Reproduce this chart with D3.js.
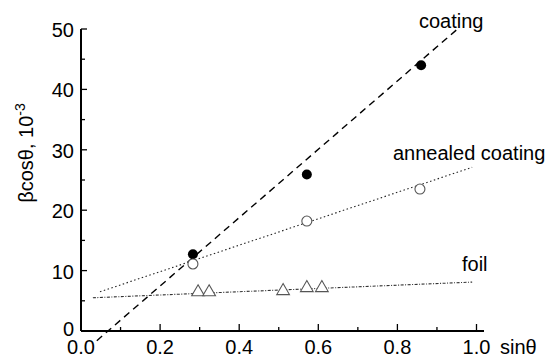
<!DOCTYPE html>
<html>
<head>
<meta charset="utf-8">
<script src="https://cdn.jsdelivr.net/npm/d3@7"></script>
<style>
  body { margin: 0; background: #fff; }
  text { font-family: Arial, "Liberation Sans", sans-serif; fill: #000; }
</style>
</head>
<body>
<div id="chart"></div>
<script>
// data
const coatingPts = [[0.283, 12.7], [0.571, 25.9], [0.86, 44.0]];
const annealedPts = [[0.283, 11.1], [0.571, 18.2], [0.857, 23.5]];
const foilPts = [[0.296, 6.6], [0.324, 6.6], [0.511, 6.8], [0.571, 7.3], [0.609, 7.3]];

// fitted lines (end points)
const coatingFit = [[0.04, -1.6], [0.952, 50]];
const annealedFit = [[0.048, 6.5], [0.989, 27.1]];
const foilFit = [[0.03, 5.5], [0.989, 8.1]];

const xTicks = [0, 0.2, 0.4, 0.6, 0.8, 1.0];
const xMinor = [0.1, 0.3, 0.5, 0.7, 0.9];
const yTicks = [0, 10, 20, 30, 40, 50];
const yMinor = [5, 15, 25, 35, 45];

const width = 550, height = 359;

const x = d3.scaleLinear().domain([0, 1]).range([81, 476.5]);
const y = d3.scaleLinear().domain([0, 50]).range([331, 29]);

const svg = d3.select('#chart').append('svg')
  .attr('width', width)
  .attr('height', height);

// axes lines
svg.append('line')
  .attr('x1', x(0)).attr('x2', x(0))
  .attr('y1', y(50)).attr('y2', y(0))
  .attr('stroke', '#000').attr('stroke-width', 2);
svg.append('line')
  .attr('x1', x(0)).attr('x2', 484)
  .attr('y1', y(0)).attr('y2', y(0))
  .attr('stroke', '#000').attr('stroke-width', 2);

// inward ticks
const tk = svg.append('g').attr('stroke', '#000').attr('stroke-width', 1.3);
tk.selectAll('.xt').data(xTicks.slice(1)).enter().append('line')
  .attr('x1', d => x(d)).attr('x2', d => x(d))
  .attr('y1', y(0)).attr('y2', y(0) - 7);
tk.selectAll('.xm').data(xMinor).enter().append('line')
  .attr('x1', d => x(d)).attr('x2', d => x(d))
  .attr('y1', y(0)).attr('y2', y(0) - 4);
tk.selectAll('.yt').data(yTicks.slice(1)).enter().append('line')
  .attr('x1', x(0)).attr('x2', x(0) + 6)
  .attr('y1', d => y(d)).attr('y2', d => y(d));
tk.selectAll('.ym').data(yMinor).enter().append('line')
  .attr('x1', x(0)).attr('x2', x(0) + 4)
  .attr('y1', d => y(d)).attr('y2', d => y(d));

// tick labels
svg.selectAll('.xl').data(xTicks).enter().append('text')
  .attr('x', d => x(d)).attr('y', 354)
  .attr('text-anchor', 'middle').attr('font-size', 20)
  .text(d => d.toFixed(1));
svg.selectAll('.yl').data(yTicks).enter().append('text')
  .attr('x', 74).attr('y', d => y(d) + (d === 0 ? 5 : 8))
  .attr('text-anchor', 'end').attr('font-size', 20)
  .text(d => d);

svg.append('text')
  .attr('x', 500).attr('y', 354).attr('font-size', 20)
  .text('sinθ');

const yl = svg.append('text')
  .attr('transform', 'translate(33,153) rotate(-90)')
  .attr('text-anchor', 'middle').attr('font-size', 20);
yl.append('tspan').text('βcosθ, 10');
yl.append('tspan').attr('dy', -8).attr('font-size', 14).text('-3');

// fit lines
const line = d3.line().x(d => x(d[0])).y(d => y(d[1]));
svg.append('path').attr('d', line(coatingFit))
  .attr('fill', 'none').attr('stroke', '#000').attr('stroke-width', 1.4)
  .attr('stroke-dasharray', '7,5');
svg.append('path').attr('d', line(annealedFit))
  .attr('fill', 'none').attr('stroke', '#222').attr('stroke-width', 1.1)
  .attr('stroke-dasharray', '1.5,2.5');
svg.append('path').attr('d', line(foilFit))
  .attr('fill', 'none').attr('stroke', '#333').attr('stroke-width', 1.1)
  .attr('stroke-dasharray', '3,1.5,1,1.5');

// markers
svg.selectAll('.cp').data(coatingPts).enter().append('circle')
  .attr('cx', d => x(d[0])).attr('cy', d => y(d[1])).attr('r', 5)
  .attr('fill', '#000');
svg.selectAll('.ap').data(annealedPts).enter().append('circle')
  .attr('cx', d => x(d[0])).attr('cy', d => y(d[1])).attr('r', 5)
  .attr('fill', '#fff').attr('stroke', '#555').attr('stroke-width', 1.1);
const tri = d3.symbol().type(d3.symbolTriangle).size(70);
svg.selectAll('.fp').data(foilPts).enter().append('path')
  .attr('d', tri)
  .attr('transform', d => `translate(${x(d[0])},${y(d[1]) + 1})`)
  .attr('fill', '#fff').attr('stroke', '#555').attr('stroke-width', 1.1);

// curve labels
svg.append('text').attr('x', 419).attr('y', 28).attr('font-size', 20).text('coating');
svg.append('text').attr('x', 393).attr('y', 160).attr('font-size', 20).text('annealed coating');
svg.append('text').attr('x', 462).attr('y', 271).attr('font-size', 20).text('foil');
</script>
</body>
</html>
